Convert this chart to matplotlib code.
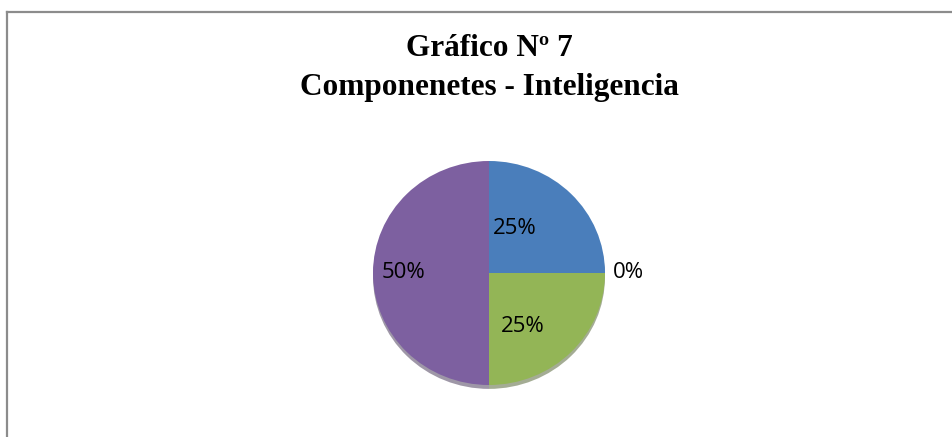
import matplotlib
matplotlib.use("Agg")
import matplotlib.pyplot as plt
import numpy as np
from matplotlib.lines import Line2D

# datos del grafico
categorias = ["A", "B", "C", "D"]
valores = [25, 0, 25, 50]
colores = ["#4a7ebb", "#be4b48", "#93b556", "#7d60a0"]
titulo = "Gráfico Nº 7\nComponenetes - Inteligencia"

W, H = 953, 437
fig = plt.figure(figsize=(W / 100, H / 100), dpi=100)

# marco (arriba e izquierda)
fig.add_artist(Line2D([7 / W, 1], [1 - 12 / H, 1 - 12 / H], color="#8c8c8c", lw=1.6))
fig.add_artist(Line2D([7 / W, 7 / W], [0, 1 - 12 / H], color="#8c8c8c", lw=1.6))

fig.text(489 / W, 1 - 68 / H, titulo, ha="center", va="center",
         family="Liberation Serif", weight="bold", fontsize=22.5, linespacing=1.5)

cx, cy, rx, ry = 489, H - 273, 116, 112
ax = fig.add_axes([(cx - rx) / W, (cy - ry) / H, 2 * rx / W, 2 * ry / H])
wedges, texts, autotexts = ax.pie(
    valores, colors=colores, startangle=90, counterclock=False,
    autopct="%1.0f%%", radius=1,
    shadow={"ox": 0.0, "oy": -0.025, "shade": 0.5},
    wedgeprops={"linewidth": 0},
    textprops={"family": "Open Sans", "fontsize": 16, "color": "black"})
ax.set_xlim(-1, 1)
ax.set_ylim(-1, 1)
ax.set_aspect("auto")
ax.axis("off")

# distancia y giro de cada etiqueta
dist = [0.45, 1.2, 0.56, 0.74]
giro = [16, 0, -14, 0]
for w, t, d, g in zip(wedges, autotexts, dist, giro):
    ang = np.deg2rad((w.theta1 + w.theta2) / 2 + g)
    t.set_position((d * np.cos(ang), d * np.sin(ang)))
    t.set_ha("center")
    t.set_va("center")

fig.savefig("out.png", dpi=100)
